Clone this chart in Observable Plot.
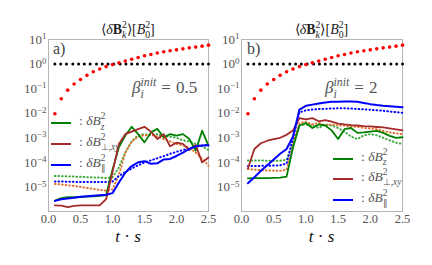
<!DOCTYPE html>
<html><head><meta charset="utf-8">
<script src="https://cdn.jsdelivr.net/npm/d3@7"></script>
<script src="https://cdn.jsdelivr.net/npm/@observablehq/plot@0.6"></script>
<style>
body{margin:0;background:#fff;}
#wrap{position:relative;width:432px;height:265px;overflow:hidden;font-family:"Times New Roman",serif;}
.plot{position:absolute;top:0;}
.lbl{position:absolute;white-space:nowrap;line-height:1;}
.ss{position:relative;display:inline-block;font-size:0.7em;line-height:0.8;}
.sp{position:relative;top:-0.62em;line-height:0.8;}
.sb{position:absolute;left:0;top:0.45em;line-height:0.8;}
.ln{position:absolute;height:0;border-top:2px solid;width:20px;}
</style></head>
<body><div id="wrap"></div>
<script>
// time grid of the simulation curves
const T = [0.1,0.2,0.3,0.4,0.5,0.6,0.7,0.8,0.9,1.0,1.1,1.2,1.3,1.4,1.5,1.6,1.7,1.8,1.9,2.0,2.1,2.2,2.3,2.4,2.5];
// time grid of the black reference dots
const TB = [0.1,0.19,0.28,0.38,0.47,0.56,0.65,0.75,0.84,0.93,1.02,1.12,1.21,1.3,1.39,1.48,1.58,1.67,1.76,1.85,1.95,2.04,2.13,2.22,2.32,2.41,2.5];
const blackDots = [1,1,1,1,1,1,1,1,1,1,1,1,1,1,1,1,1,1,1,1,1,1,1,1,1,1,1];
const redDots = [0.0095,0.039,0.087,0.155,0.234,0.347,0.49,0.63,0.79,0.95,1.12,1.32,1.58,1.86,2.19,2.45,2.82,3.16,3.47,3.8,4.17,4.57,4.9,5.37,5.89];

// panel a (beta = 0.5)
const greenA = [2.8e-6,3.5e-6,3.8e-6,3.8e-6,3.9e-6,4.0e-6,4.1e-6,4.3e-6,4.7e-6,5.0e-5,4.1e-4,1.23e-3,2.8e-3,1.41e-3,6.5e-4,1.66e-3,2.3e-3,1.05e-3,1.41e-3,1.23e-3,1.41e-3,8.9e-4,3.0e-4,1.95e-3,4.8e-4];
const redA = [1.78e-6,1.74e-6,1.51e-6,1.7e-6,1.78e-6,1.78e-6,1.78e-6,1.78e-6,3.16e-6,4.0e-5,5.6e-4,1.41e-3,1.78e-3,2.24e-3,2.8e-3,1.78e-3,8.9e-4,1.41e-3,4.5e-4,6.3e-4,5.6e-4,3.16e-4,5.0e-4,1.0e-4,1.58e-4];
const blueA = [2.7e-6,3.16e-6,3.4e-6,3.6e-6,4.0e-6,4.2e-6,4.4e-6,4.6e-6,4.8e-6,5.6e-6,1.51e-5,3.8e-5,7.1e-5,1.0e-4,1.12e-4,8.7e-5,9.1e-5,1.32e-4,1.38e-4,1.82e-4,2.5e-4,3.5e-4,4.5e-4,4.9e-4,5.0e-4];
const greenDotA = [2.8e-5,2.75e-5,2.7e-5,2.63e-5,2.57e-5,2.5e-5,2.45e-5,2.4e-5,2.3e-5,2.5e-5,6.3e-5,2.5e-4,7.1e-4,1.26e-3,1.41e-3,1.26e-3,1.41e-3,1.12e-3,1.12e-3,1.0e-3,7.9e-4,7.1e-4,5.6e-4,4.5e-4,3.16e-4];
const orangeDotA = [1.32e-5,1.26e-5,1.17e-5,1.1e-5,1.0e-5,9.1e-6,8.3e-6,7.6e-6,7.1e-6,7.9e-6,3.16e-5,2.5e-4,7.1e-4,1.12e-3,1.26e-3,1.32e-3,1.12e-3,8.9e-4,7.1e-4,5.6e-4,5.0e-4,4.0e-4,2.5e-4,1.41e-4,7.4e-5];
const blueDotA = [1.66e-5,1.66e-5,1.62e-5,1.62e-5,1.58e-5,1.58e-5,1.58e-5,1.58e-5,1.58e-5,1.66e-5,2.8e-5,4.0e-5,5.6e-5,7.6e-5,1.0e-4,1.2e-4,1.48e-4,1.78e-4,2.24e-4,2.7e-4,3.16e-4,3.7e-4,4.3e-4,4.8e-4,5.2e-4];

// panel b (beta = 2)
const greenB = [2.24e-5,2.3e-5,2.3e-5,2.3e-5,2.34e-5,2.4e-5,2.63e-5,4.0e-4,3.16e-3,4.0e-3,2.5e-3,3.5e-3,3.16e-3,2.0e-3,8.9e-4,2.24e-3,2.5e-3,1.58e-3,1.66e-3,1.78e-3,1.9e-3,1.58e-3,1.2e-3,1.0e-3,1.05e-3];
const redB = [5.6e-5,3.5e-4,6.0e-4,7.6e-4,8.9e-4,1.0e-3,1.32e-3,2.0e-3,6.3e-3,5.6e-3,6.3e-3,4.7e-3,5.2e-3,4.5e-3,3.8e-3,3.5e-3,3.3e-3,3.16e-3,3.0e-3,2.9e-3,2.75e-3,2.63e-3,2.4e-3,2.19e-3,2.0e-3];
const blueB = [1.41e-5,2.5e-5,4.5e-5,7.6e-5,1.32e-4,2.24e-4,3.5e-4,1.12e-3,1.41e-2,2.0e-2,2.24e-2,2.5e-2,2.7e-2,2.9e-2,2.95e-2,3.0e-2,3.0e-2,2.95e-2,2.63e-2,2.34e-2,2.14e-2,2.0e-2,1.9e-2,1.82e-2,1.74e-2];
const greenDotB = [1.2e-4,1.2e-4,1.2e-4,1.17e-4,1.17e-4,1.17e-4,1.26e-4,6.3e-4,3.16e-3,3.5e-3,3.16e-3,2.5e-3,3.5e-3,3.16e-3,2.5e-3,1.78e-3,1.12e-3,8.9e-4,1.26e-3,1.41e-3,1.26e-3,1.0e-3,7.9e-4,6.3e-4,5.6e-4];
const orangeDotB = [5.4e-5,5.0e-5,4.8e-5,4.7e-5,4.6e-5,4.5e-5,5.0e-5,5.0e-4,4.0e-3,4.5e-3,3.5e-3,4.0e-3,3.16e-3,3.5e-3,3.16e-3,3.16e-3,2.8e-3,2.8e-3,2.5e-3,2.4e-3,2.24e-3,1.9e-3,1.66e-3,1.51e-3,1.41e-3];
const blueDotB = [7.1e-5,7.1e-5,7.2e-5,7.2e-5,7.4e-5,7.6e-5,8.9e-5,1.0e-3,1.07e-2,1.32e-2,1.41e-2,1.48e-2,1.51e-2,1.55e-2,1.58e-2,1.58e-2,1.55e-2,1.48e-2,1.45e-2,1.38e-2,1.32e-2,1.26e-2,1.17e-2,1.1e-2,1.05e-2];

const xTicks = [0, 0.5, 1.0, 1.5, 2.0, 2.5];
const yTicks = [10, 1, 0.1, 0.01, 1e-3, 1e-4, 1e-5];

const C = {green:"#008000", red:"#a52a2a", blue:"#0000ff", greenDot:"#3aa83a", orangeDot:"#e3702c"};
const rows = (ts, vs) => ts.map((t, i) => ({t, v: vs[i]}));

function panel(d, width, ml, mr) {
  const solid = {x:"t", y:"v", strokeWidth:1.8};
  const dotted = {x:"t", y:"v", strokeWidth:2, strokeDasharray:"0.6,3", strokeLinecap:"round"};
  const svg = Plot.plot({
    width, height:265, marginLeft:ml, marginRight:mr, marginTop:39, marginBottom:54,
    x:{domain:[0,2.5]},
    y:{type:"log", domain:[1e-6,10]},
    style:{background:"transparent", overflow:"visible", fontFamily:"Times New Roman, serif", fontSize:"13px", color:"#555"},
    marks:[
      Plot.frame({stroke:"#b5b5b5", strokeWidth:1}),
      Plot.axisY({ticks:yTicks, tickSize:0, tickPadding:2, label:null, tickFormat:v => String(Math.round(Math.log10(v)))}),
      Plot.axisX({ticks:xTicks, tickSize:0, tickPadding:3, fontSize:12.5, label:null, tickFormat:d3.format(".1f")}),
      Plot.line(rows(T, d.gd), {...dotted, stroke:C.greenDot}),
      Plot.line(rows(T, d.od), {...dotted, stroke:C.orangeDot}),
      Plot.line(rows(T, d.bd), {...dotted, stroke:C.blue}),
      Plot.line(rows(T, d.g), {...solid, stroke:C.green}),
      Plot.line(rows(T, d.r), {...solid, stroke:C.red}),
      Plot.line(rows(T, d.b), {...solid, stroke:C.blue, strokeWidth:2}),
      Plot.dot(rows(TB, blackDots), {x:"t", y:"v", r:1.5, fill:"black"}),
      Plot.dot(rows(T, redDots), {x:"t", y:"v", r:1.8, fill:"red"})
    ]
  });
  // turn exponent labels into 10^n with a raised exponent
  d3.select(svg).selectAll('g[aria-label="y-axis tick label"] text').each(function() {
    const n = this.textContent.replace("-", "\u2212");
    const s = d3.select(this);
    s.text("10");
    s.append("tspan").attr("dy", "-0.5em").attr("font-size", "9px").text(n);
  });
  return svg;
}

const wrap = document.getElementById("wrap");
const A = panel({g:greenA, r:redA, b:blueA, gd:greenDotA, od:orangeDotA, bd:blueDotA}, 216, 48, 8);
A.classList.add("plot"); A.style.left = "0px";
const B = panel({g:greenB, r:redB, b:blueB, gd:greenDotB, od:orangeDotB, bd:blueDotB}, 236, 45, 30);
B.classList.add("plot"); B.style.left = "196px";
wrap.appendChild(A); wrap.appendChild(B);

const ss = (sup, sub) => `<span class="ss"><span class="sp">${sup}</span><span class="sb">${sub}</span></span>`;
function label(html, x, y, size, color, center) {
  const el = document.createElement("div");
  el.className = "lbl";
  el.innerHTML = html;
  el.style.left = x + "px"; el.style.top = y + "px";
  el.style.fontSize = size + "px"; el.style.color = color;
  if (center) el.style.transform = "translateX(-50%)";
  wrap.appendChild(el);
}
function line(x, y, color) {
  const el = document.createElement("div");
  el.className = "ln";
  el.style.left = x + "px"; el.style.top = (y - 1) + "px"; el.style.borderColor = color;
  wrap.appendChild(el);
}
const title = `\u27E8<i>\u03B4</i><b>B</b>${ss("2","<i>k</i>")}\u27E9[<i>B</i>${ss("2","0")}]`;
label(title, 128, 23, 14, "#222", true);
label(title, 321.5, 23, 14, "#222", true);
label("a)", 53, 41, 16, "#444");
label("b)", 247, 41, 16, "#444");
label(`<i>\u03B2</i>${ss("<i>init</i>","<i>i</i>")}<span style="margin:0 5px">=</span>0.5`, 132, 79, 17, "#555");
label(`<i>\u03B2</i>${ss("<i>init</i>","<i>i</i>")}<span style="margin:0 5px">=</span>2`, 325, 79, 17, "#555");
label(`<i>t</i> \u00B7 <i>s</i>`, 128, 228, 17, "#111", true);
label(`<i>t</i> \u00B7 <i>s</i>`, 321.5, 228, 17, "#111", true);

const legText = [
  `: <i>\u03B4B</i>${ss("2","<i>z</i>")}`,
  `: <i>\u03B4B</i>${ss("2","\u22A5<i>,xy</i>")}`,
  `: <i>\u03B4B</i>${ss("2","\u2225")}`
];
const legColor = [C.green, C.red, C.blue];
const legA = [123.3, 144, 165];
const legB = [158.5, 179, 199.5];
legA.forEach((y, i) => { line(51, y, legColor[i]); label(legText[i], 79, y - 9, 13.5, "#555"); });
legB.forEach((y, i) => { line(333, y, legColor[i]); label(legText[i], 361, y - 9, 13.5, "#555"); });
</script>
</body></html>
